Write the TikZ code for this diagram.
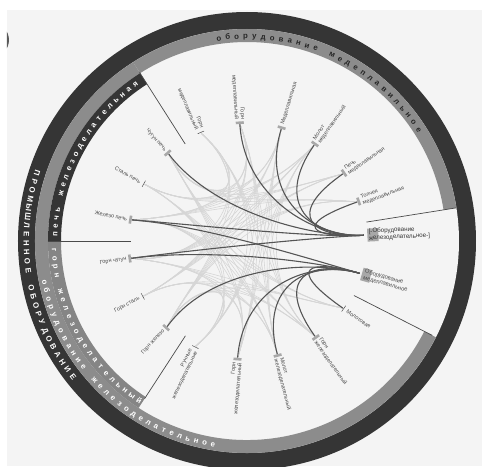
\documentclass[tikz,border=0pt]{standalone}
\usepackage{fontspec}
\setmainfont{Liberation Sans}
\definecolor{bg}{HTML}{F4F4F4}
\definecolor{ringdark}{HTML}{353535}
\definecolor{ringgray}{HTML}{8C8C8C}
\definecolor{labtxt}{HTML}{4A4A4A}
\definecolor{edgedark}{HTML}{555555}
\definecolor{edgelight}{HTML}{D6D6D6}
\definecolor{hibox}{HTML}{A8A8A8}
\definecolor{sepcol}{HTML}{4A4A4A}
\begin{document}
\begin{tikzpicture}[x=1pt,y=1pt,
  lbl/.style={font=\fontsize{5.5}{6.1}\selectfont,text=labtxt,inner sep=0.8pt},
  lblR/.style={lbl,anchor=west,align=left},
  lblL/.style={lbl,anchor=east,align=right},
  tickmark/.style={draw=labtxt,line width=0.5pt},
  hitick/.style={fill=hibox,inner sep=0pt,minimum width=2.6pt,minimum height=8pt},
  dk/.style={draw=edgedark,line width=1.1pt},
  lt/.style={draw=edgelight,line width=0.6pt},
  sepline/.style={draw=sepcol,line width=0.7pt},
  ringw/.style={font=\fontsize{7.8}{7.8}\selectfont\bfseries,text=white,inner sep=0pt,anchor=base},
  ringb/.style={ringw,text=black!85}]
\useasboundingbox (-247,-225) rectangle (235,241);
\fill[white] (-247,-225) rectangle (235,241);
\fill[bg] (-240,-225) rectangle (235,231);
% small fragment top-left
\begin{scope}
  \clip (-240,185) rectangle (-225,215);
  \fill[gray!70!black] (-255,201) circle (17);
\end{scope}
% rings
\fill[ringdark] (0,0) circle (229);
\fill[bg] (0,0) circle (212);
\fill[ringgray] (9:212) arc (9:122.5:212) -- (122.5:199) arc (122.5:9:199) -- cycle;
\fill[ringgray] (122.5:212) arc (122.5:333:212) -- (333:199) arc (333:122.5:199) -- cycle;
\fill[ringdark] (122.5:199) arc (122.5:180:199) -- (180:186) arc (180:122.5:186) -- cycle;
\fill[ringgray!95!black] (180:199) arc (180:237:199) -- (237:186) arc (237:180:186) -- cycle;
% separators
\draw[sepline] (9:121) -- (9:212);
\draw[sepline] (122.5:115) -- (122.5:200);
\draw[sepline] (180:116) -- (180:199);
\draw[sepline] (237:113) -- (237:188);
\draw[sepline] (333:120) -- (333:208);
% ring texts
\foreach \ch [count=\i from 0] in {П,Р,О,М,Ы,Ш,Л,Е,Н,Н,О,Е, ,О,Б,О,Р,У,Д,О,В,А,Н,И,Е}{
  \pgfmathsetmacro\a{162+2.33*\i}
  \node[ringw,rotate=\a+90] (rp\i) at (\a:223.3) {\ch};}
\foreach \ch [count=\i from 0] in {о,б,о,р,у,д,о,в,а,н,и,е, ,м,е,д,е,п,л,а,в,и,л,ь,н,о,е}{
  \pgfmathsetmacro\a{97.9-2.5*\i}
  \node[ringb,rotate=\a-90] (rm\i) at (\a:202.2) {\ch};}
\foreach \ch [count=\i from 0] in {о,б,о,р,у,д,о,в,а,н,и,е, ,ж,е,л,е,з,о,д,е,л,а,т,е,л,ь,н,о,е}{
  \pgfmathsetmacro\a{191.5+2.38*\i}
  \node[ringw,rotate=\a+90] (rz\i) at (\a:208.8) {\ch};}
\foreach \ch [count=\i from 0] in {г,о,р,н, ,ж,е,л,е,з,о,д,е,л,а,т,е,л,ь,н,ы,й}{
  \pgfmathsetmacro\a{182.6+2.54*\i}
  \node[ringw,rotate=\a+90] (rg\i) at (\a:195.3) {\ch};}
\foreach \ch [count=\i from 0] in {п,е,ч,ь, ,ж,е,л,е,з,о,д,е,л,а,т,е,л,ь,н,а,я}{
  \pgfmathsetmacro\a{178-2.5*\i}
  \node[ringw,rotate=\a-90] (rq\i) at (\a:189.7) {\ch};}
% leaf coordinates
\foreach \n/\t in {a/113,b/93.5,c/73,d/55,e/35,f/19.5,H1/2.8,H2/-16,g/-35,h/-54.5,i/-75,j/-94.6,k/-116,l/-133,m/-152,n/-171.5,o/169.6,p/151,q/132}
  \coordinate (L\n) at (\t:117);
% light edges
\foreach \A/\ga in {q/151,p/151,o/151,n/208,m/208,l/208}{
  \foreach \B/\gb in {a/66,b/66,c/66,d/66,e/66,f/66,g/-75,h/-75,i/-75,j/-75,k/-75}{
    \draw[lt] (L\A) .. controls (\ga:52) and (\gb:52) .. (L\B);}}
\foreach \A in {a,b,c,d}{
  \foreach \B in {h,i,j,k}{
    \draw[lt] (L\A) .. controls (66:50) and (-75:50) .. (L\B);}}
% dark edges
\foreach \A/\ga in {q/140,o/160,n/190,b/93.5,c/73,d/55,e/35,f/19.5}
  \draw[dk] (L\A) .. controls (\ga:45) and (2.8:65) .. (LH1);
\foreach \A/\ga in {o/160,n/190,l/215,g/-35,h/-54.5,i/-75,j/-94.6}
  \draw[dk] (L\A) .. controls (\ga:45) and (-16:65) .. (LH2);
% ticks
\foreach \n/\t in {a/113,k/-116,m/-152,p/151,g/-35}
  \draw[tickmark] (\t:118) ++(\t+90:3.5) -- ++(\t-90:7);
\foreach \n/\t in {b/93.5,c/73,d/55,e/35,f/19.5,h/-54.5,i/-75,j/-94.6,l/-133,n/-171.5,o/169.6,q/132}
  \node[hitick,rotate=\t] (T\n) at (\t:118.5) {};
\node[fill=hibox,inner sep=0pt,minimum width=11pt,minimum height=13pt,rotate=2.8] (TH1) at (2.8:126) {};
\node[fill=hibox,inner sep=0pt,minimum width=9pt,minimum height=13pt,rotate=-16] (TH2) at (-16:124) {};
% labels
\node[lblL,rotate=-67] (Na) at (113:121) {Горн\\медеплавильный};
\node[lblL,rotate=-86.5] (Nb) at (93.5:121) {Горн\\медеплавильный};
\node[lblR,rotate=73] (Nc) at (73:121) {Медеплавильная};
\node[lblR,rotate=55] (Nd) at (55:121) {Молот\\медеплавильный};
\node[lblR,rotate=35] (Ne) at (35:121) {Печь\\медеплавильная};
\node[lblR,rotate=19.5] (Nf) at (19.5:121) {Толчея\\медеплавильная};
\node[lblR,rotate=2.8,font=\fontsize{6.2}{7}\selectfont,text=black!80] (NH1) at (2.8:121) {[-Оборудование\\железоделательное-]};
\node[lblR,rotate=-16,font=\fontsize{5.8}{6.5}\selectfont] (NH2) at (-16:121) {Оборудование\\медеплавильное};
\node[lblR,rotate=-35] (Ng) at (-35:121) {Молотовая};
\node[lblR,rotate=-54.5] (Nh) at (-54.5:121) {Горн\\железоделательный};
\node[lblR,rotate=-75] (Ni) at (-75:121) {Молот\\железоделательный};
\node[lblL,rotate=85.4] (Nj) at (-94.6:121) {Горн\\железоделательный};
\node[lblL,rotate=64] (Nk) at (-116:121) {Ручные\\железоделательные};
\node[lblL,rotate=47] (Nl) at (-133:121) {Горн железо};
\node[lblL,rotate=28] (Nm) at (-152:121) {Горн сталь};
\node[lblL,rotate=8.5] (Nn) at (-171.5:121) {Горн чугун};
\node[lblL,rotate=-10.4] (No) at (169.6:121) {Железо печь};
\node[lblL,rotate=-29] (Np) at (151:121) {Сталь печь};
\node[lblL,rotate=-48] (Nq) at (132:121) {Чугун печь};
\end{tikzpicture}
\end{document}
